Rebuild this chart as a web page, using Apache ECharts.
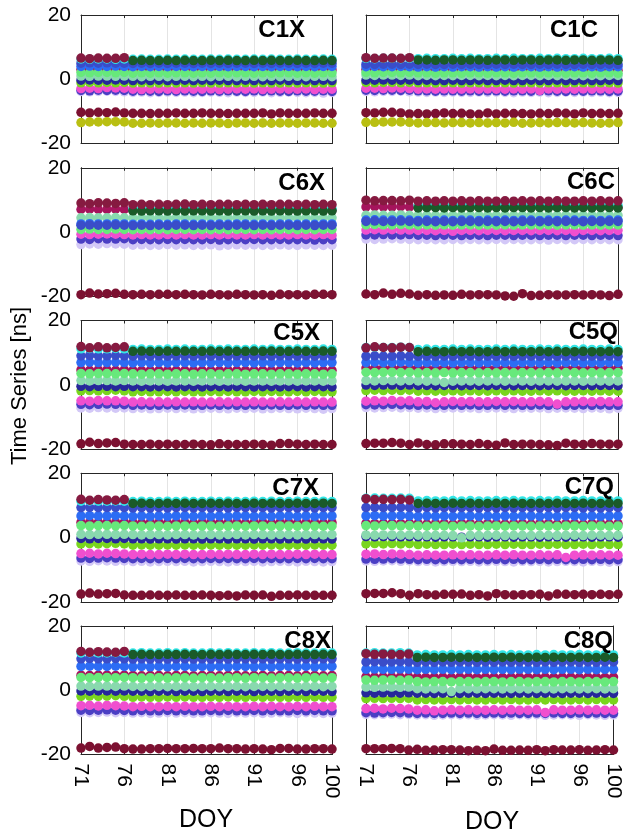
<!DOCTYPE html>
<html>
<head>
<meta charset="utf-8">
<script src="https://cdn.jsdelivr.net/npm/echarts@6/dist/echarts.min.js"></script>
<style>
html, body { margin: 0; padding: 0; background: #fff; }
#chart { width: 624px; height: 836px; }
</style>
</head>
<body>
<div id="chart"></div>
<script>
const _ = null;
const DOY = [71,72,73,74,75,76,77,78,79,80,81,82,83,84,85,86,87,88,89,90,91,92,93,94,95,96,97,98,99,100];

// order of rows in every panel:
// lavender, purple, pink, lime, navy, mint, light green, crimson, bright blue, royal blue, cyan, dark green, top red, low red, yellow
const SAT_COLORS = ['#d3c8f7','#4b3fc4','#f04fcf','#79d51e','#26279a','#89d9ae','#67e97b','#a5145c',
                    '#2c6cf4','#3a4dc9','#33e6e6','#1a5a29','#861a40','#7c1131','#b9bf12'];
// drawing order (crimson goes under light green)
const DRAW_ORDER = [0,1,2,3,4,7,5,6,8,9,10,11,12,13,14];

const PANEL_NAMES = ['C1X','C1C','C6X','C6C','C5X','C5Q','C7X','C7Q','C8X','C8Q'];
const TITLE_RIGHT = [319, 26, 299, 9, 304, 6, 305, 10, 293, 11];
const TITLE_TOP = [18, 18, 171, 170, 321, 320, 476, 475, 629, 629];

const C1X = [
  [-3.8,-3.9,-3.8,-3.7,-3.8,-3.9,-4.1,-4.0,-4.2,-4.1,-4.0,-4.1,-4.0,-4.2,-4.1,-4.0,-4.1,-4.2,-4.0,-4.1,-4.1,-4.0,-4.2,-4.1,-4.0,-4.1,-4.2,-4.1,-4.3,-4.1],
  [-3.5,-3.6,-3.4,-3.5,-3.4,-3.5,-3.7,-3.6,-3.7,-3.8,-3.6,-3.7,-3.6,-3.7,-3.8,-3.6,-3.7,-3.6,-3.7,-3.8,-3.6,-3.7,-3.6,-3.7,-3.8,-3.6,-3.7,-3.7,-3.6,-3.8],
  [-2.9,-2.8,-2.9,-2.6,-2.7,-2.8,-3.1,-3.2,-3.1,-3.0,-3.1,-3.2,-3.0,-3.1,-3.1,-3.0,-3.2,-3.1,-3.0,-3.1,-3.0,-3.2,-3.1,-3.0,-3.1,-3.1,-3.0,-3.2,-3.1,-3.1],
  [-1.1,-1.0,-1.1,-1.0,-1.1,-1.0,-1.2,-1.1,-1.2,-1.2,-1.1,-1.2,-1.1,-1.2,-1.1,-1.2,-1.2,-1.1,-1.2,-1.1,-1.2,-1.1,-1.2,-1.2,-1.1,-1.2,-1.1,-1.2,-1.2,-1.1],
  [-0.3,-0.2,-0.3,-0.3,-0.2,-0.3,-0.4,-0.3,-0.4,-0.3,-0.4,-0.4,-0.3,-0.4,-0.3,-0.4,-0.3,-0.4,-0.4,-0.3,-0.4,-0.3,-0.4,-0.3,-0.4,-0.4,-0.3,-0.4,-0.3,-0.4],
  [1.0,0.9,1.0,1.0,0.9,1.0,0.9,0.8,0.9,0.9,0.8,0.9,0.9,0.8,0.9,0.8,0.9,0.9,0.8,0.9,0.9,0.8,0.9,0.8,0.9,0.9,0.8,0.9,0.9,0.8],
  [2.1,2.0,2.1,2.1,2.0,2.1,1.9,2.0,1.9,2.0,1.9,2.0,2.0,1.9,2.0,1.9,2.0,1.9,2.0,2.0,1.9,2.0,1.9,2.0,2.0,1.9,2.0,1.9,2.0,2.0],
  [3.0,2.9,3.0,3.0,2.9,3.0,2.9,2.8,2.9,2.9,2.8,2.9,2.9,2.8,2.9,2.9,2.8,2.9,2.9,2.8,2.9,2.8,2.9,2.9,2.8,2.9,2.9,2.8,2.9,2.9],
  [4.0,4.1,4.0,4.0,4.1,4.0,3.9,4.0,3.9,4.0,3.9,4.0,4.0,3.9,4.0,3.9,4.0,3.9,4.0,4.0,3.9,4.0,3.9,4.0,4.0,3.9,4.0,3.9,4.0,4.0],
  [5.0,5.1,5.0,5.1,5.0,5.0,4.9,5.0,4.9,5.0,4.9,5.0,5.0,4.9,5.0,4.9,5.0,4.9,5.0,5.0,4.9,5.0,4.9,5.0,5.0,4.9,5.0,4.9,5.0,5.0],
  [6.3,6.2,6.3,6.3,6.2,6.3,6.2,6.3,6.2,6.2,6.3,6.2,6.3,6.2,6.2,6.3,6.2,6.3,6.2,6.2,6.3,6.2,6.3,6.2,6.2,6.3,6.2,6.2,6.3,6.2],
  [_,_,_,_,_,_,5.8,5.9,5.8,5.8,5.9,5.8,5.9,5.8,5.8,5.9,5.8,5.9,5.8,5.8,5.9,5.8,5.9,5.8,5.8,5.9,5.8,5.8,5.9,5.8],
  [6.6,6.4,6.6,6.5,6.5,6.7],
  [-10.3,-10.5,-10.3,-10.4,-10.2,-10.5,-10.6,-10.6,-10.7,-10.6,-10.6,-10.5,-10.6,-10.6,-10.5,-10.6,-10.6,-10.7,-10.6,-10.6,-10.6,-10.5,-10.8,-10.5,-10.6,-10.6,-10.6,-10.5,-10.6,-10.6],
  [-13.5,-13.3,-13.3,-13.2,-13.2,-13.3,-13.7,-13.7,-13.6,-13.7,-13.6,-13.6,-13.7,-13.6,-13.7,-13.6,-13.6,-13.8,-13.6,-13.6,-13.7,-13.6,-13.7,-13.6,-13.6,-13.7,-13.6,-13.6,-13.7,-13.7]
];

const C1C = [
  [-3.8,-3.9,-3.8,-3.8,-3.7,-3.9,-4.0,-4.1,-4.0,-4.1,-4.0,-4.1,-4.1,-4.0,-4.1,-4.0,-4.1,-4.2,-4.0,-4.1,-4.0,-4.2,-4.1,-4.0,-4.1,-4.0,-4.1,-4.0,-4.2,-4.1],
  [-3.4,-3.5,-3.4,-3.4,-3.5,-3.4,-3.6,-3.6,-3.7,-3.6,-3.6,-3.7,-3.6,-3.7,-3.6,-3.6,-3.7,-3.6,-3.6,-3.7,-3.6,-3.6,-3.7,-3.8,-3.6,-3.7,-3.6,-3.6,-3.8,-3.7],
  [-2.8,-2.8,-2.9,-2.7,-2.8,-2.9,-3.1,-3.0,-3.1,-3.0,-3.1,-3.1,-3.0,-3.1,-3.0,-3.1,-3.1,-3.0,-3.1,-3.0,-3.5,-3.0,-3.1,-3.0,-3.1,-3.0,-3.1,-3.0,-3.1,-3.0],
  [-1.0,-1.1,-1.0,-1.0,-1.1,-1.0,-1.1,-1.1,-1.2,-1.1,-1.1,-1.2,-1.1,-1.1,-1.2,-1.1,-1.1,-1.2,-1.1,-1.1,-1.2,-1.1,-1.1,-1.2,-1.1,-1.1,-1.2,-1.1,-1.1,-1.2],
  [-0.3,-0.3,-0.2,-0.3,-0.3,-0.2,-0.4,-0.3,-0.4,-0.4,-0.3,-0.4,-0.4,-0.3,-0.4,-0.4,-0.3,-0.4,-0.4,-0.3,-0.4,-0.4,-0.3,-0.4,-0.4,-0.3,-0.4,-0.4,-0.3,-0.4],
  [1.3,1.2,1.3,1.3,1.2,1.3,1.1,1.2,1.1,1.2,1.1,1.2,1.2,1.1,1.2,1.1,1.2,1.1,1.2,1.2,1.1,1.2,1.1,1.2,1.2,1.1,1.2,1.1,1.2,1.2],
  [2.1,2.0,2.1,2.1,2.0,2.1,2.0,2.0,1.9,2.0,2.0,1.9,2.0,2.0,1.9,2.0,2.0,1.9,2.0,2.0,1.9,2.0,2.0,1.9,2.0,2.0,1.9,2.0,2.0,1.9],
  [3.0,3.0,2.9,3.0,3.0,2.9,2.9,2.9,2.8,2.9,2.9,2.8,2.9,2.9,2.8,2.9,2.9,2.8,2.9,2.9,2.8,2.9,2.9,2.8,2.9,2.9,2.8,2.9,2.9,2.8],
  [3.9,4.0,3.9,3.9,4.0,3.9,3.8,3.9,3.8,3.9,3.8,3.9,3.9,3.8,3.9,3.8,3.9,3.8,3.9,3.9,3.8,3.9,3.8,3.9,3.9,3.8,3.9,3.8,3.9,3.9],
  [4.7,4.6,4.7,4.7,4.6,4.7,4.6,4.7,4.6,4.6,4.7,4.6,4.7,4.6,4.6,4.7,4.6,4.7,4.6,4.6,4.7,4.6,4.7,4.6,4.6,4.7,4.6,4.6,4.7,4.6],
  [6.5,6.4,6.5,6.5,6.4,6.5,6.4,6.5,6.4,6.4,6.5,6.4,6.5,6.4,6.4,6.5,6.4,6.5,6.4,6.4,6.5,6.4,6.5,6.4,6.4,6.5,6.4,6.4,6.5,6.4],
  [_,_,_,_,_,_,6.0,6.0,5.9,6.0,6.0,5.9,6.0,6.0,5.9,6.0,6.0,5.9,6.0,6.0,5.9,6.0,6.0,5.9,6.0,6.0,5.9,6.0,6.0,5.9],
  [6.7,6.5,6.6,6.6,6.5,6.7],
  [-10.4,-10.5,-10.3,-10.3,-10.5,-10.8,-10.7,-10.8,-10.7,-10.5,-10.7,-10.6,-10.8,-10.9,-10.5,-10.8,-10.6,-10.7,-10.7,-10.8,-10.6,-10.7,-10.5,-10.6,-10.8,-10.5,-10.7,-10.6,-10.7,-10.6],
  [-13.4,-13.4,-13.3,-13.3,-13.3,-13.4,-13.6,-13.5,-13.5,-13.6,-13.5,-13.5,-13.6,-13.5,-13.6,-13.5,-13.6,-13.4,-13.7,-13.6,-13.5,-13.6,-13.5,-13.5,-13.6,-13.5,-13.6,-13.7,-13.6,-13.5]
];

const C6X = [
  [-3.9,-3.7,-3.8,-3.6,-3.7,-3.8,-4.1,-4.0,-4.2,-4.1,-3.9,-4.1,-4.0,-4.2,-4.1,-4.0,-4.3,-4.1,-4.0,-4.1,-4.0,-4.2,-4.1,-4.0,-4.1,-4.2,-4.0,-4.1,-4.2,-4.1],
  [-2.2,-2.3,-2.1,-2.2,-2.2,-2.1,-2.4,-2.3,-2.4,-2.4,-2.3,-2.4,-2.3,-2.4,-2.4,-2.3,-2.5,-2.4,-2.3,-2.4,-2.3,-2.4,-2.4,-2.3,-2.4,-2.4,-2.3,-2.5,-2.4,-2.4],
  [-0.7,-0.8,-0.7,-0.6,-0.7,-0.8,-0.9,-0.8,-0.9,-0.9,-0.8,-0.9,-0.8,-0.9,-0.9,-0.8,-0.9,-0.8,-0.9,-0.9,-0.8,-0.9,-0.8,-0.9,-0.9,-0.8,-0.9,-0.9,-0.8,-1.0],
  null,
  null,
  [4.4,4.5,4.4,4.4,4.5,4.4,4.3,4.4,4.3,4.4,4.3,4.4,4.4,4.3,4.4,4.3,4.4,4.3,4.4,4.4,4.3,4.4,4.3,4.4,4.4,4.3,4.4,4.3,4.4,4.4],
  [0.8,0.9,0.8,0.8,0.9,0.8,0.7,0.8,0.7,0.8,0.7,0.8,0.8,0.7,0.8,0.7,0.8,0.7,0.8,0.8,0.7,0.8,0.7,0.8,0.8,0.7,0.8,0.7,0.8,0.8],
  [7.0,7.1,7.0,7.0,7.1,7.0,6.8,6.9,6.8,6.8,6.9,6.8,6.9,6.8,6.8,6.9,6.8,6.9,6.8,6.8,6.9,6.8,6.9,6.8,6.8,6.9,6.8,6.8,6.9,6.8],
  [2.5,2.6,2.5,2.5,2.6,2.5,2.4,2.5,2.4,2.5,2.4,2.5,2.5,2.4,2.5,2.4,2.5,2.4,2.5,2.5,2.4,2.5,2.4,2.5,2.5,2.4,2.5,2.4,2.5,2.5],
  [2.1,2.2,2.1,2.1,2.2,2.1,2.0,2.1,2.0,2.1,2.0,2.1,2.1,2.0,2.1,2.0,2.1,2.0,2.1,2.1,2.0,2.1,2.0,2.1,2.1,2.0,2.1,2.0,2.1,2.1],
  [_,_,_,_,_,_,7.2,7.3,7.2,7.2,7.3,7.2,7.3,7.2,7.2,7.3,7.2,7.3,7.2,7.2,7.3,7.2,7.3,7.2,7.2,7.3,7.2,7.2,7.3,7.2],
  [_,_,_,_,_,_,6.6,6.5,6.6,6.6,6.5,6.6,6.5,6.6,6.6,6.5,6.6,6.5,6.6,6.6,6.5,6.6,6.5,6.6,6.6,6.5,6.6,6.6,6.5,6.6],
  [9.0,8.8,9.1,9.0,8.9,9.1,8.5,8.6,8.5,8.6,8.5,8.6,8.7,8.5,8.6,8.5,8.6,8.6,8.5,8.6,8.5,8.6,8.5,8.6,8.6,8.5,8.6,8.5,8.6,8.5],
  [-19.5,-19.0,-19.3,-19.2,-19.1,-19.4,-19.5,-19.4,-19.5,-19.4,-19.4,-19.5,-19.4,-19.5,-19.6,-19.4,-19.5,-19.6,-19.4,-19.5,-19.6,-19.5,-19.7,-19.4,-19.5,-19.5,-19.6,-19.4,-19.4,-19.5],
  null
];

const C6C = [
  [-2.2,-2.3,-2.2,-2.1,-2.2,-2.3,-2.4,-2.3,-2.4,-2.4,-2.3,-2.4,-2.3,-2.4,-2.4,-2.3,-2.4,-2.3,-2.4,-2.4,-2.3,-2.5,-2.3,-2.4,-2.4,-2.3,-2.4,-2.3,-2.4,-2.4],
  [-0.9,-0.9,-0.8,-0.9,-0.9,-0.8,-1.0,-1.0,-1.1,-1.0,-1.0,-1.1,-1.0,-1.0,-1.1,-1.0,-1.0,-1.1,-1.0,-1.0,-1.1,-1.0,-1.0,-1.1,-1.0,-1.0,-1.1,-1.0,-1.0,-1.1],
  [0.6,0.7,0.6,0.7,0.6,0.6,0.5,0.5,0.4,0.5,0.2,0.5,0.5,0.4,0.5,0.5,0.4,0.5,0.5,0.4,0.5,0.5,0.4,0.5,0.1,0.5,0.5,0.4,0.5,0.5],
  null,
  null,
  [5.2,5.3,5.2,5.2,5.3,5.2,5.1,5.2,5.1,5.2,5.1,5.2,5.2,5.1,5.2,5.1,5.2,5.1,5.2,5.2,5.1,5.2,5.1,5.2,5.2,5.1,5.2,5.1,5.2,5.2],
  [2.2,2.3,2.2,2.2,2.3,2.2,2.1,2.2,2.1,2.2,2.1,2.2,2.2,2.1,2.2,2.1,2.2,2.1,2.2,2.2,2.1,2.2,2.1,2.2,2.2,2.1,2.2,2.1,2.2,2.2],
  [7.8,7.9,7.8,7.8,7.9,7.8,7.7,7.8,7.7,7.7,7.8,7.7,7.8,7.7,7.7,7.8,7.7,7.8,7.7,7.7,7.8,7.7,7.8,7.7,7.7,7.8,7.7,7.7,7.8,7.7],
  [3.7,3.8,3.7,3.7,3.8,3.7,3.6,3.7,3.6,3.7,3.6,3.7,3.7,3.6,3.7,3.6,3.7,3.6,3.7,3.7,3.6,3.7,3.6,3.7,3.7,3.6,3.7,3.6,3.7,3.7],
  [3.3,3.4,3.3,3.3,3.4,3.3,3.2,3.3,3.2,3.3,3.2,3.3,3.3,3.2,3.3,3.2,3.3,3.2,3.3,3.3,3.2,3.3,3.2,3.3,3.3,3.2,3.3,3.2,3.3,3.3],
  [_,_,_,_,_,_,8.3,8.4,8.3,8.3,8.4,8.3,8.4,8.3,8.3,8.4,8.3,8.4,8.3,8.3,8.4,8.3,8.4,8.3,8.3,8.4,8.3,8.3,8.4,8.3],
  [_,_,_,_,_,_,7.5,7.6,7.6,7.5,7.6,7.5,7.6,7.6,7.5,7.6,7.5,7.6,7.6,7.5,7.6,7.5,7.6,7.6,7.5,7.6,7.5,7.6,7.6,7.5],
  [9.9,9.7,9.8,9.8,9.7,9.9,9.6,9.7,9.6,9.7,9.6,9.7,9.6,9.7,9.6,9.6,9.7,9.6,9.7,9.6,9.7,9.6,9.7,9.6,9.6,9.7,9.6,9.7,9.6,9.7],
  [-19.3,-19.5,-19.0,-19.4,-19.1,-19.3,-19.7,-19.5,-19.7,-19.6,-19.7,-19.4,-19.6,-19.5,-19.5,-19.6,-19.9,-20.0,-19.2,-19.8,-19.7,-19.5,-19.6,-19.6,-19.5,-19.6,-19.5,-19.6,-19.8,-19.4],
  null
];

const C5X = [
  [-7.2,-7.3,-7.1,-7.2,-7.3,-7.2,-7.4,-7.3,-7.5,-7.4,-7.3,-7.4,-7.3,-7.5,-7.4,-7.3,-7.4,-7.5,-7.3,-7.4,-7.3,-7.5,-7.4,-7.3,-7.4,-7.5,-7.3,-7.4,-7.6,-7.4],
  [-6.1,-6.2,-6.1,-6.0,-6.1,-6.2,-6.4,-6.3,-6.4,-6.4,-6.3,-6.4,-6.3,-6.4,-6.4,-6.3,-6.4,-6.3,-6.4,-6.4,-6.3,-6.4,-6.3,-6.4,-6.4,-6.3,-6.4,-6.3,-6.4,-6.4],
  [-5.0,-5.1,-4.9,-5.0,-5.0,-5.1,-5.4,-5.3,-5.4,-5.3,-5.4,-5.3,-5.4,-5.3,-5.4,-5.4,-5.3,-5.4,-5.3,-5.4,-5.3,-5.4,-5.4,-5.3,-5.4,-5.3,-5.4,-5.3,-5.4,-5.4],
  [-1.9,-1.8,-1.9,-1.8,-1.7,-1.9,-2.2,-2.1,-2.2,-2.2,-2.1,-2.2,-2.1,-2.2,-2.2,-2.1,-2.2,-2.1,-2.2,-2.2,-2.1,-2.2,-2.1,-2.2,-2.2,-2.1,-2.2,-2.1,-2.2,-2.2],
  [-0.5,-0.6,-0.5,-0.5,-0.6,-0.5,-0.6,-0.6,-0.7,-0.6,-0.6,-0.7,-0.6,-0.6,-0.7,-0.6,-0.6,-0.7,-0.6,-0.6,-0.7,-0.6,-0.6,-0.7,-0.6,-0.6,-0.7,-0.6,-0.6,-0.7],
  [1.3,1.2,1.3,1.3,1.2,1.3,1.2,1.1,1.2,1.2,1.1,1.2,1.2,1.1,1.2,1.2,1.1,1.2,1.2,1.1,1.2,1.2,1.1,1.2,1.2,1.1,1.2,1.2,1.1,1.2],
  [3.5,3.4,3.5,3.5,3.4,3.5,3.4,3.3,3.4,3.4,3.3,3.4,3.4,3.3,3.4,3.4,3.3,3.4,3.4,3.3,3.4,3.4,3.3,3.4,3.4,3.3,3.4,3.4,3.3,3.4],
  [4.6,4.5,4.6,4.6,4.5,4.6,4.5,4.4,4.5,4.5,4.4,4.5,4.5,4.4,4.5,4.5,4.4,4.5,4.5,4.4,4.5,4.5,4.4,4.5,4.5,4.4,4.5,4.5,4.4,4.5],
  [6.9,7.0,6.9,6.9,7.0,6.9,6.8,6.9,6.8,6.9,6.8,6.9,6.9,6.8,6.9,6.8,6.9,6.8,6.9,6.9,6.8,6.9,6.8,6.9,6.9,6.8,6.9,6.8,6.9,6.9],
  [9.0,9.1,9.0,9.0,9.1,9.0,8.9,9.0,8.9,9.0,8.9,9.0,9.0,8.9,9.0,8.9,9.0,8.9,9.0,9.0,8.9,9.0,8.9,9.0,9.0,8.9,9.0,8.9,9.0,9.0],
  [11.2,11.3,11.2,11.2,11.3,11.2,11.0,11.1,11.0,11.0,11.1,11.0,11.1,11.0,11.0,11.1,11.0,11.1,11.0,11.0,11.1,11.0,11.1,11.0,11.0,11.1,11.0,11.0,11.1,11.0],
  [_,_,_,_,_,_,10.4,10.5,10.4,10.4,10.5,10.4,10.5,10.4,10.4,10.5,10.4,10.5,10.4,10.4,10.5,10.4,10.5,10.4,10.4,10.5,10.4,10.4,10.5,10.4],
  [11.9,11.5,11.8,11.5,11.6,11.8],
  [-18.4,-17.9,-18.3,-18.1,-18.0,-18.5,-18.6,-18.6,-18.5,-18.6,-18.5,-18.6,-18.6,-18.5,-18.6,-18.7,-18.4,-18.6,-18.6,-18.6,-18.5,-18.6,-18.8,-18.3,-18.3,-18.5,-18.6,-18.5,-18.6,-18.6],
  null
];

const C5Q = [
  [-7.1,-7.2,-7.1,-7.0,-7.2,-7.1,-7.3,-7.2,-7.4,-7.3,-7.2,-7.3,-7.2,-7.4,-7.3,-7.2,-7.3,-7.4,-7.2,-7.3,-7.2,-7.4,-7.3,-7.2,-7.3,-7.4,-7.2,-7.3,-7.5,-7.3],
  [-6.2,-6.3,-6.2,-6.1,-6.2,-6.3,-6.4,-6.3,-6.4,-6.4,-6.3,-6.4,-6.3,-6.4,-6.4,-6.3,-6.4,-6.3,-6.4,-6.4,-6.3,-6.4,-6.3,-6.4,-6.4,-6.3,-6.4,-6.3,-6.4,-6.4],
  [-5.1,-5.0,-5.1,-4.9,-5.1,-5.0,-5.3,-5.2,-5.6,-5.3,-5.2,-5.3,-5.2,-5.3,-5.3,-5.2,-5.3,-5.2,-5.3,-5.3,-5.2,-5.3,-6.0,-5.3,-5.3,-5.2,-5.3,-5.2,-5.3,-5.3],
  [-1.8,-1.7,-1.8,-1.7,-1.8,-1.7,-2.0,-1.9,-2.0,-2.0,-1.9,-2.0,-1.9,-2.0,-2.0,-1.9,-2.0,-1.9,-2.0,-2.0,-1.9,-2.0,-1.9,-2.0,-2.0,-1.9,-2.0,-1.9,-2.0,-2.0],
  [-0.1,-0.2,-0.1,-0.1,-0.2,-0.1,-0.2,-0.2,-0.3,-0.2,-0.2,-0.3,-0.2,-0.2,-0.3,-0.2,-0.2,-0.3,-0.2,-0.2,-0.3,-0.2,-0.2,-0.3,-0.2,-0.2,-0.3,-0.2,-0.2,-0.3],
  [1.3,1.2,1.3,1.3,1.2,1.3,1.2,1.1,1.2,0.7,1.1,1.2,1.2,1.1,1.2,1.2,1.1,1.2,1.2,1.1,1.2,1.2,1.1,1.2,1.2,1.1,1.2,1.2,1.1,1.2],
  [3.9,3.8,3.9,3.9,3.8,3.9,3.7,3.8,3.7,3.8,3.7,3.8,3.8,3.7,3.8,3.7,3.8,3.7,3.8,3.8,3.7,3.8,3.7,3.8,3.8,3.7,3.8,3.7,3.8,3.8],
  [5.2,5.1,5.2,5.2,5.1,5.2,5.1,5.0,5.1,5.1,5.0,5.1,5.1,5.0,5.1,5.1,5.0,5.1,5.1,5.0,5.1,5.1,5.0,5.1,5.1,5.0,5.1,5.1,5.0,5.1],
  [6.9,7.0,6.9,6.9,7.0,6.9,6.8,6.9,6.8,6.9,6.8,6.9,6.9,6.8,6.9,6.8,6.9,6.8,6.9,6.9,6.8,6.9,6.8,6.9,6.9,6.8,6.9,6.8,6.9,6.9],
  [8.9,9.0,8.9,8.9,9.0,8.9,8.8,8.9,8.8,8.9,8.8,8.9,8.9,8.8,8.9,8.8,8.9,8.8,8.9,8.9,8.8,8.9,8.8,8.9,8.9,8.8,8.9,8.8,8.9,8.9],
  [11.6,11.7,11.6,11.6,11.7,11.6,11.0,11.1,11.0,11.0,11.1,11.0,11.1,11.0,11.0,11.1,11.0,11.1,11.0,11.0,11.1,11.0,11.1,11.0,11.0,11.1,11.0,11.0,11.1,11.0],
  [_,_,_,_,_,_,10.3,10.4,10.3,10.3,10.4,10.3,10.4,10.3,10.3,10.4,10.3,10.4,10.3,10.3,10.4,10.3,10.4,10.3,10.3,10.4,10.3,10.3,10.4,10.3],
  [11.5,11.8,11.6,11.5,11.7,11.6],
  [-18.3,-18.2,-18.2,-18.0,-18.2,-18.6,-18.1,-18.6,-18.7,-18.4,-18.4,-18.5,-18.6,-18.3,-18.6,-18.8,-18.1,-18.6,-18.5,-18.5,-18.6,-18.7,-18.9,-18.2,-18.5,-18.6,-18.3,-18.5,-18.5,-18.5],
  null
];

const C7X = [
  [-7.3,-7.4,-7.2,-7.3,-7.4,-7.3,-7.5,-7.4,-7.6,-7.5,-7.4,-7.5,-7.4,-7.6,-7.5,-7.4,-7.5,-7.6,-7.4,-7.5,-7.4,-7.6,-7.5,-7.4,-7.5,-7.6,-7.4,-7.5,-7.6,-7.5],
  [-6.4,-6.5,-6.4,-6.3,-6.4,-6.5,-6.6,-6.5,-6.6,-6.6,-6.5,-6.6,-6.5,-6.6,-6.6,-6.5,-6.6,-6.5,-6.6,-6.6,-6.5,-6.6,-6.5,-6.6,-6.6,-6.5,-6.6,-6.5,-6.6,-6.6],
  [-5.0,-4.9,-5.1,-4.9,-5.0,-5.1,-5.3,-5.2,-5.3,-5.3,-5.2,-5.3,-5.2,-5.3,-5.3,-5.2,-5.3,-5.2,-5.3,-5.3,-5.2,-5.3,-5.2,-5.3,-5.3,-5.2,-5.3,-5.2,-5.3,-5.3],
  [-2.0,-1.9,-2.0,-1.9,-1.8,-2.0,-2.4,-2.3,-2.4,-2.4,-2.3,-2.4,-2.3,-2.4,-2.4,-2.3,-2.4,-2.3,-2.4,-2.4,-2.3,-2.4,-2.3,-2.4,-2.4,-2.3,-2.4,-2.3,-2.4,-2.4],
  [-0.3,-0.4,-0.3,-0.3,-0.4,-0.3,-0.4,-0.4,-0.5,-0.4,-0.4,-0.5,-0.4,-0.4,-0.5,-0.4,-0.4,-0.5,-0.4,-0.4,-0.5,-0.4,-0.4,-0.5,-0.4,-0.4,-0.5,-0.4,-0.4,-0.5],
  [1.0,0.9,1.0,1.0,0.9,1.0,0.9,0.8,0.9,0.9,0.8,0.9,0.9,0.8,0.9,0.9,0.8,0.9,0.9,0.8,0.9,0.9,0.8,0.9,0.9,0.8,0.9,0.9,0.8,0.9],
  [3.7,3.6,3.7,3.7,3.6,3.7,3.6,3.5,3.6,3.6,3.5,3.6,3.6,3.5,3.6,3.6,3.5,3.6,3.6,3.5,3.6,3.6,3.5,3.6,3.6,3.5,3.6,3.6,3.5,3.6],
  [4.7,4.6,4.7,4.7,4.6,4.7,4.6,4.5,4.6,4.6,4.5,4.6,4.6,4.5,4.6,4.6,4.5,4.6,4.6,4.5,4.6,4.6,4.5,4.6,4.6,4.5,4.6,4.6,4.5,4.6],
  [6.7,6.8,6.7,6.7,6.8,6.7,6.6,6.7,6.6,6.7,6.6,6.7,6.7,6.6,6.7,6.6,6.7,6.6,6.7,6.7,6.6,6.7,6.6,6.7,6.7,6.6,6.7,6.6,6.7,6.7],
  [9.3,9.4,9.3,9.3,9.4,9.3,9.2,9.3,9.2,9.3,9.2,9.3,9.3,9.2,9.3,9.2,9.3,9.2,9.3,9.3,9.2,9.3,9.2,9.3,9.3,9.2,9.3,9.2,9.3,9.3],
  [11.3,11.4,11.3,11.3,11.4,11.3,11.2,11.3,11.2,11.2,11.3,11.2,11.3,11.2,11.2,11.3,11.2,11.3,11.2,11.2,11.3,11.2,11.3,11.2,11.2,11.3,11.2,11.2,11.3,11.2],
  [_,_,_,_,_,_,10.6,10.7,10.6,10.6,10.7,10.6,10.7,10.6,10.6,10.7,10.6,10.7,10.6,10.6,10.7,10.6,10.7,10.6,10.6,10.7,10.6,10.6,10.7,10.6],
  [11.9,11.6,11.8,11.7,11.6,11.8],
  [-17.6,-17.3,-17.6,-17.5,-17.4,-17.9,-18.0,-18.0,-17.9,-18.0,-18.0,-17.9,-18.0,-18.0,-17.9,-18.0,-18.1,-18.0,-18.2,-17.9,-18.0,-17.9,-18.3,-18.0,-18.0,-17.9,-18.0,-18.0,-18.0,-18.0],
  null
];

const C7Q = [
  [-7.3,-7.4,-7.3,-7.2,-7.4,-7.3,-7.5,-7.4,-7.6,-7.5,-7.4,-7.5,-7.4,-7.6,-7.5,-7.4,-7.5,-7.6,-7.4,-7.5,-7.4,-7.6,-7.5,-7.4,-7.5,-7.6,-7.4,-7.5,-7.7,-7.5],
  [-6.7,-6.8,-6.7,-6.6,-6.7,-6.8,-6.9,-6.8,-6.9,-6.9,-6.8,-6.9,-6.8,-6.9,-6.9,-6.8,-6.9,-6.8,-6.9,-6.9,-6.8,-6.9,-6.8,-6.9,-6.9,-6.8,-6.9,-6.8,-6.9,-6.9],
  [-5.2,-5.1,-5.3,-5.1,-5.2,-5.3,-5.5,-5.4,-5.5,-5.5,-5.4,-5.5,-5.4,-5.5,-5.5,-5.4,-5.5,-5.4,-5.5,-5.5,-5.4,-5.5,-5.4,-6.2,-5.5,-5.4,-5.5,-5.4,-5.5,-5.5],
  [-2.0,-1.9,-2.0,-1.9,-2.0,-1.9,-2.2,-2.1,-2.2,-2.2,-2.1,-2.2,-2.1,-2.2,-2.2,-2.1,-2.2,-2.1,-2.2,-2.2,-2.1,-2.2,-2.1,-2.2,-2.2,-2.1,-2.2,-2.1,-2.2,-2.2],
  [0.3,0.2,0.3,0.3,0.2,0.3,0.2,0.2,0.1,0.2,0.2,0.1,0.2,0.2,0.1,0.2,0.2,0.1,0.2,0.2,0.1,0.2,0.2,0.1,0.2,0.2,0.1,0.2,0.2,0.1],
  [0.8,0.7,0.8,0.8,0.7,0.8,0.7,0.6,0.7,0.7,0.6,-0.1,0.7,0.6,0.7,0.7,0.6,0.7,0.7,0.6,0.7,0.7,0.6,0.7,0.7,0.6,0.7,0.7,0.6,0.7],
  [3.7,3.6,3.7,3.7,3.6,3.7,3.6,3.5,3.6,3.6,3.5,3.6,3.6,3.5,3.6,3.6,3.5,3.6,3.6,3.5,3.6,3.6,3.5,3.6,3.6,3.5,3.6,3.6,3.5,3.6],
  [4.4,4.3,4.4,4.4,4.3,4.4,4.3,4.2,4.3,4.3,4.2,4.3,4.3,4.2,4.3,4.3,4.2,4.3,4.3,4.2,4.3,4.3,4.2,4.3,4.3,4.2,4.3,4.3,4.2,4.3],
  [6.7,6.8,6.7,6.7,6.8,6.7,6.6,6.7,6.6,6.7,6.6,6.7,6.7,6.6,6.7,6.6,6.7,6.6,6.7,6.7,6.6,6.7,6.6,6.7,6.7,6.6,6.7,6.6,6.7,6.7],
  [9.3,9.4,9.3,9.3,9.4,9.3,9.2,9.3,9.2,9.3,9.2,9.3,9.3,9.2,9.3,9.2,9.3,9.2,9.3,9.3,9.2,9.3,9.2,9.3,9.3,9.2,9.3,9.2,9.3,9.3],
  [12.2,12.3,12.2,12.2,12.3,12.2,11.4,11.5,11.4,11.4,11.5,11.4,11.5,11.4,11.4,11.5,11.4,11.5,11.4,11.4,11.5,11.4,11.5,11.4,11.4,11.5,11.4,11.4,11.5,11.4],
  [_,_,_,_,_,_,10.6,10.7,10.6,10.6,10.7,10.6,10.7,10.6,10.6,10.7,10.6,10.7,10.6,10.6,10.7,10.6,10.7,10.6,10.6,10.7,10.6,10.6,10.7,10.6],
  [12.1,11.8,11.9,11.8,11.9,11.7],
  [-17.5,-17.4,-17.4,-17.2,-17.5,-18.0,-17.5,-17.8,-17.9,-17.7,-17.7,-17.6,-18.0,-17.8,-18.2,-17.5,-17.8,-17.9,-17.8,-17.8,-17.7,-18.2,-17.6,-17.7,-17.8,-17.7,-17.8,-17.7,-17.8,-17.7],
  null
];

const C8X = [
  [-6.9,-7.0,-6.9,-6.8,-7.0,-6.9,-7.1,-7.0,-7.2,-7.1,-7.0,-7.1,-7.0,-7.2,-7.1,-7.0,-7.1,-7.2,-7.0,-7.1,-7.0,-7.2,-7.1,-7.0,-7.1,-7.2,-7.0,-7.1,-7.2,-7.1],
  [-6.2,-6.3,-6.2,-6.1,-6.2,-6.3,-6.4,-6.3,-6.4,-6.4,-6.3,-6.4,-6.3,-6.4,-6.4,-6.3,-6.4,-6.3,-6.4,-6.4,-6.3,-6.4,-6.3,-6.4,-6.4,-6.3,-6.4,-6.3,-6.4,-6.4],
  [-4.8,-4.7,-4.9,-4.7,-4.8,-4.9,-5.1,-5.0,-5.1,-5.1,-5.0,-5.1,-5.0,-5.1,-5.1,-5.0,-5.1,-5.0,-5.1,-5.1,-5.0,-5.1,-5.0,-5.1,-5.1,-5.0,-5.1,-5.0,-5.1,-5.1],
  [-1.9,-1.8,-1.9,-1.8,-1.7,-1.9,-2.2,-2.1,-2.2,-2.2,-2.1,-2.2,-2.1,-2.2,-2.2,-2.1,-2.2,-2.1,-2.2,-2.2,-2.1,-2.2,-2.1,-2.2,-2.2,-2.1,-2.2,-2.1,-2.2,-2.2],
  [-0.2,-0.3,-0.2,-0.2,-0.3,-0.2,-0.3,-0.3,-0.4,-0.3,-0.3,-0.4,-0.3,-0.3,-0.4,-0.3,-0.3,-0.4,-0.3,-0.3,-0.4,-0.3,-0.3,-0.4,-0.3,-0.3,-0.4,-0.3,-0.3,-0.4],
  [1.3,1.2,1.3,1.3,1.2,1.3,1.2,1.1,1.2,1.2,1.1,1.2,1.2,1.1,1.2,1.2,1.1,1.2,1.2,1.1,1.2,1.2,1.1,1.2,1.2,1.1,1.2,1.2,1.1,1.2],
  [4.0,3.9,4.0,4.0,3.9,4.0,3.9,3.8,3.9,3.9,3.8,3.9,3.9,3.8,3.9,3.9,3.8,3.9,3.9,3.8,3.9,3.9,3.8,3.9,3.9,3.8,3.9,3.9,3.8,3.9],
  [4.7,4.6,4.7,4.7,4.6,4.7,4.6,4.5,4.6,4.6,4.5,4.6,4.6,4.5,4.6,4.6,4.5,4.6,4.6,4.5,4.6,4.6,4.5,4.6,4.6,4.5,4.6,4.6,4.5,4.6],
  [7.4,7.5,7.4,7.4,7.5,7.4,7.3,7.4,7.3,7.4,7.3,7.4,7.4,7.3,7.4,7.3,7.4,7.3,7.4,7.4,7.3,7.4,7.3,7.4,7.4,7.3,7.4,7.3,7.4,7.4],
  [9.8,9.9,9.8,9.8,9.9,9.8,9.7,9.8,9.7,9.8,9.7,9.8,9.8,9.7,9.8,9.7,9.8,9.7,9.8,9.8,9.7,9.8,9.7,9.8,9.8,9.7,9.8,9.7,9.8,9.8],
  [11.6,11.7,11.6,11.6,11.7,11.6,11.6,11.7,11.6,11.6,11.7,11.6,11.7,11.6,11.6,11.7,11.6,11.7,11.6,11.6,11.7,11.6,11.7,11.6,11.6,11.7,11.6,11.6,11.7,11.6],
  [_,_,_,_,_,_,11.1,11.2,11.1,11.1,11.2,11.1,11.2,11.1,11.1,11.2,11.1,11.2,11.1,11.1,11.2,11.1,11.2,11.1,11.1,11.2,11.1,11.1,11.2,11.1],
  [12.1,11.8,12.0,11.9,11.8,12.1],
  [-18.0,-17.5,-18.0,-17.8,-17.7,-18.2,-18.3,-18.3,-18.2,-18.2,-18.1,-18.2,-18.2,-18.1,-18.2,-18.2,-18.0,-18.2,-18.2,-18.3,-18.2,-18.3,-18.5,-18.1,-18.1,-18.3,-18.3,-18.2,-18.2,-18.3],
  null
];

const C8Q = [
  [-7.5,-7.6,-7.5,-7.4,-7.6,-7.5,-7.7,-7.6,-7.8,-7.7,-7.6,-7.7,-7.6,-7.8,-7.7,-7.6,-7.7,-7.8,-7.6,-7.7,-7.6,-7.8,-7.7,-7.6,-7.7,-7.8,-7.6,-7.7,-7.8,-7.7],
  [-7.0,-7.1,-7.0,-6.9,-7.0,-7.1,-7.2,-7.1,-7.2,-7.2,-7.1,-7.2,-7.1,-7.2,-7.2,-7.1,-7.2,-7.1,-7.2,-7.2,-7.1,-7.2,-7.1,-7.2,-7.2,-7.1,-7.2,-7.1,-7.2,-7.2],
  [-5.7,-5.6,-5.8,-5.6,-5.7,-5.8,-6.2,-6.1,-6.4,-6.2,-6.1,-6.2,-6.1,-6.2,-6.2,-6.1,-6.2,-6.1,-6.2,-6.2,-6.1,-6.9,-6.1,-6.2,-6.2,-6.1,-6.2,-6.1,-6.2,-6.2],
  [-2.6,-2.5,-2.6,-2.5,-2.6,-2.5,-3.0,-2.9,-3.0,-3.0,-2.9,-3.0,-2.9,-3.0,-3.0,-2.9,-3.0,-2.9,-3.0,-3.0,-2.9,-3.0,-2.9,-3.0,-3.0,-2.9,-3.0,-2.9,-3.0,-3.0],
  [-0.8,-0.9,-0.8,-0.8,-0.9,-0.8,-0.9,-0.9,-1.0,-0.9,-0.9,-1.0,-0.9,-0.9,-1.0,-0.9,-0.9,-1.0,-0.9,-0.9,-1.0,-0.9,-0.9,-1.0,-0.9,-0.9,-1.0,-0.9,-0.9,-1.0],
  [1.0,0.9,1.0,1.0,0.9,1.0,0.5,0.4,0.5,0.5,-0.4,0.5,0.5,0.4,0.5,0.5,0.4,0.5,0.5,0.4,0.5,0.5,0.4,0.5,0.5,0.4,0.5,0.5,0.4,0.5],
  [3.2,3.1,3.2,3.2,3.1,3.2,2.7,2.6,2.7,2.7,2.6,2.7,2.7,2.6,2.7,2.7,2.6,2.7,2.7,2.6,2.7,2.7,2.6,2.7,2.7,2.6,2.7,2.7,2.6,2.7],
  [4.2,4.1,4.2,4.2,4.1,4.2,4.1,4.0,4.1,4.1,4.0,4.1,4.1,4.0,4.1,4.1,4.0,4.1,4.1,4.0,4.1,4.1,4.0,4.1,4.1,4.0,4.1,4.1,4.0,4.1],
  [6.5,6.6,6.5,6.5,6.6,6.5,6.4,6.5,6.4,6.5,6.4,6.5,6.5,6.4,6.5,6.4,6.5,6.4,6.5,6.5,6.4,6.5,6.4,6.5,6.5,6.4,6.5,6.4,6.5,6.5],
  [8.8,8.9,8.8,8.8,8.9,8.8,8.7,8.8,8.7,8.8,8.7,8.8,8.8,8.7,8.8,8.7,8.8,8.7,8.8,8.8,8.7,8.8,8.7,8.8,8.8,8.7,8.8,8.7,8.8,8.8],
  [11.6,11.7,11.6,11.6,11.7,11.6,11.0,11.1,11.0,11.0,11.1,11.0,11.1,11.0,11.0,11.1,11.0,11.1,11.0,11.0,11.1,11.0,11.1,11.0,11.0,11.1,11.0,11.0,11.1,11.0],
  [_,_,_,_,_,_,10.2,10.3,10.2,10.2,10.3,10.2,10.3,10.2,10.2,10.3,10.2,10.3,10.2,10.2,10.3,10.2,10.3,10.2,10.2,10.3,10.2,10.2,10.3,10.2],
  [11.4,11.2,11.3,11.2,11.1,11.3],
  [-18.2,-18.2,-18.2,-18.1,-18.2,-18.6,-18.4,-18.7,-18.6,-18.5,-18.5,-18.6,-18.8,-18.7,-18.8,-18.3,-18.7,-18.7,-18.6,-18.7,-18.5,-18.8,-18.5,-18.6,-18.6,-18.5,-18.7,-18.6,-18.5,-18.6],
  null
];

const PANEL_ROWS = [C1X, C1C, C6X, C6C, C5X, C5Q, C7X, C7Q, C8X, C8Q];

const FONT = '"Liberation Sans", Arial, sans-serif';
const LINE = { color: '#262626', width: 1 };

let grids = [], xAxes = [], yAxes = [], series = [], titles = [];

PANEL_NAMES.forEach(function (name, p) {
    const col = p % 2;
    const row = Math.floor(p / 2);
    const lastRow = row === 4;

    grids.push({
        left: col ? 366 : 81,
        width: col ? 252 : 251,
        top: 15 + row * 152.75,
        height: 128.5
    });

    // bottom x axis (ticks, labels, grid lines)
    xAxes.push({
        gridIndex: p, type: 'value', min: 71, max: 100, interval: 5,
        axisLine: { show: name !== 'C6C', onZero: false, lineStyle: LINE },
        axisTick: { show: true, inside: true, length: 3, lineStyle: LINE },
        axisLabel: { show: lastRow, rotate: -90, margin: 9, fontSize: 21, color: '#000', fontFamily: FONT },
        splitLine: { show: true, showMinLine: false, showMaxLine: false, lineStyle: { color: '#e4e4e4', width: 1 } }
    });
    // top border
    xAxes.push({
        gridIndex: p, type: 'value', position: 'top', min: 71, max: 100, interval: 5,
        axisLine: { show: true, onZero: false, lineStyle: LINE },
        axisTick: { show: true, inside: true, length: 3, lineStyle: LINE },
        axisLabel: { show: false }, splitLine: { show: false }
    });
    // left y axis
    yAxes.push({
        gridIndex: p, type: 'value', min: -20, max: 20, interval: 20,
        axisLine: { show: true, onZero: false, lineStyle: LINE },
        axisTick: { show: true, inside: true, length: 3, lineStyle: LINE },
        axisLabel: { show: col === 0, margin: 10, fontSize: 21, color: '#000', fontFamily: FONT },
        splitLine: { show: false }
    });
    // right border
    yAxes.push({
        gridIndex: p, type: 'value', position: 'right', min: -20, max: 20, interval: 20,
        axisLine: { show: true, onZero: false, lineStyle: LINE },
        axisTick: { show: true, inside: true, length: 3, lineStyle: LINE },
        axisLabel: { show: false }, splitLine: { show: false }
    });

    titles.push({
        text: name, right: TITLE_RIGHT[p], top: TITLE_TOP[p], padding: 0,
        textStyle: { fontSize: 24, fontWeight: 'bold', color: '#000', fontFamily: FONT }
    });

    DRAW_ORDER.forEach(function (k) {
        const vals = PANEL_ROWS[p][k];
        if (!vals) return;
        let pts = [];
        vals.forEach(function (v, i) {
            if (v !== null && v !== undefined) pts.push([DOY[i], v]);
        });
        series.push({
            type: 'scatter',
            xAxisIndex: 2 * p, yAxisIndex: 2 * p,
            data: pts,
            symbol: 'circle', symbolSize: 9.5,
            clip: false, silent: true,
            itemStyle: { color: SAT_COLORS[k], opacity: 1 }
        });
    });
});

const chart = echarts.init(document.getElementById('chart'));
chart.setOption({
    animation: false,
    backgroundColor: '#fff',
    title: titles,
    grid: grids,
    xAxis: xAxes,
    yAxis: yAxes,
    series: series,
    graphic: [
        { type: 'text', x: 20, y: 386, rotation: Math.PI / 2,
          style: { text: 'Time Series [ns]', fontSize: 22, fontFamily: FONT, fill: '#000', align: 'center', verticalAlign: 'middle' } },
        { type: 'text', x: 206, y: 820,
          style: { text: 'DOY', fontSize: 25, fontFamily: FONT, fill: '#000', align: 'center', verticalAlign: 'middle' } },
        { type: 'text', x: 492, y: 822,
          style: { text: 'DOY', fontSize: 25, fontFamily: FONT, fill: '#000', align: 'center', verticalAlign: 'middle' } }
    ]
});
</script>
</body>
</html>
